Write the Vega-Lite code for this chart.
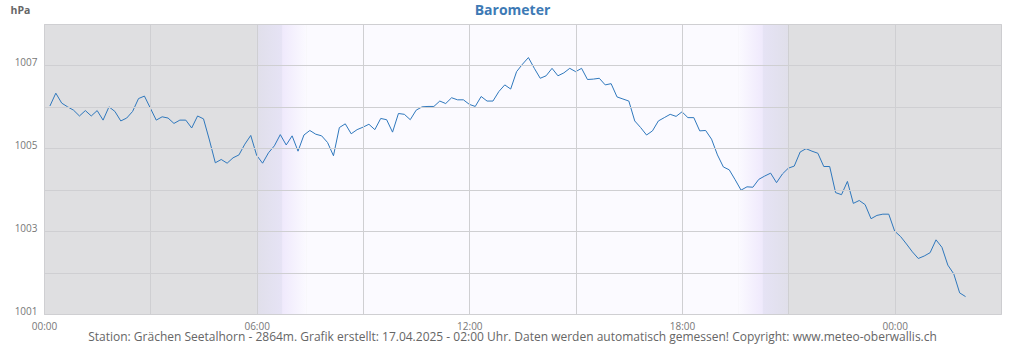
{
  "$schema": "https://vega.github.io/schema/vega-lite/v6.json",
  "width": 957,
  "height": 290,
  "autosize": "none",
  "padding": {"left": 44, "top": 24, "right": 23, "bottom": 36},
  "background": "#ffffff",
  "config": {"font": "Open Sans", "view": {"fill": "#dfdfe1", "stroke": "#cdcdd0"}},
  "title": {"text": "Barometer", "fontSize": 14, "fontWeight": "bold", "color": "#3d7ab5", "anchor": "middle", "dx": -10, "offset": 0, "dy": 13},
  "datasets": {
    "bands": [
      {"kind": "twilight_am", "start": "2025-04-16T06:00Z", "end": "2025-04-16T06:43Z"},
      {"kind": "dawn", "start": "2025-04-16T06:43Z", "end": "2025-04-16T07:25Z"},
      {"kind": "day", "start": "2025-04-16T07:25Z", "end": "2025-04-16T19:35Z"},
      {"kind": "dusk", "start": "2025-04-16T19:35Z", "end": "2025-04-16T20:17Z"},
      {"kind": "twilight_pm", "start": "2025-04-16T20:17Z", "end": "2025-04-16T21:00Z"}
    ],
    "pressure": [
      {"t": "2025-04-16T00:10Z", "p": 1006.02},
      {"t": "2025-04-16T00:20Z", "p": 1006.33},
      {"t": "2025-04-16T00:30Z", "p": 1006.09},
      {"t": "2025-04-16T00:40Z", "p": 1006.00},
      {"t": "2025-04-16T00:50Z", "p": 1005.92},
      {"t": "2025-04-16T01:00Z", "p": 1005.78},
      {"t": "2025-04-16T01:10Z", "p": 1005.91},
      {"t": "2025-04-16T01:20Z", "p": 1005.78},
      {"t": "2025-04-16T01:30Z", "p": 1005.91},
      {"t": "2025-04-16T01:40Z", "p": 1005.68},
      {"t": "2025-04-16T01:50Z", "p": 1006.00},
      {"t": "2025-04-16T02:00Z", "p": 1005.89},
      {"t": "2025-04-16T02:10Z", "p": 1005.66},
      {"t": "2025-04-16T02:20Z", "p": 1005.73},
      {"t": "2025-04-16T02:30Z", "p": 1005.89},
      {"t": "2025-04-16T02:40Z", "p": 1006.20},
      {"t": "2025-04-16T02:50Z", "p": 1006.26},
      {"t": "2025-04-16T03:00Z", "p": 1005.97},
      {"t": "2025-04-16T03:10Z", "p": 1005.68},
      {"t": "2025-04-16T03:20Z", "p": 1005.76},
      {"t": "2025-04-16T03:30Z", "p": 1005.73},
      {"t": "2025-04-16T03:40Z", "p": 1005.60},
      {"t": "2025-04-16T03:50Z", "p": 1005.68},
      {"t": "2025-04-16T04:00Z", "p": 1005.68},
      {"t": "2025-04-16T04:10Z", "p": 1005.49},
      {"t": "2025-04-16T04:20Z", "p": 1005.78},
      {"t": "2025-04-16T04:30Z", "p": 1005.71},
      {"t": "2025-04-16T04:40Z", "p": 1005.20},
      {"t": "2025-04-16T04:50Z", "p": 1004.65},
      {"t": "2025-04-16T05:00Z", "p": 1004.73},
      {"t": "2025-04-16T05:10Z", "p": 1004.64},
      {"t": "2025-04-16T05:20Z", "p": 1004.77},
      {"t": "2025-04-16T05:30Z", "p": 1004.84},
      {"t": "2025-04-16T05:40Z", "p": 1005.10},
      {"t": "2025-04-16T05:50Z", "p": 1005.31},
      {"t": "2025-04-16T06:00Z", "p": 1004.83},
      {"t": "2025-04-16T06:10Z", "p": 1004.64},
      {"t": "2025-04-16T06:20Z", "p": 1004.89},
      {"t": "2025-04-16T06:30Z", "p": 1005.06},
      {"t": "2025-04-16T06:40Z", "p": 1005.33},
      {"t": "2025-04-16T06:50Z", "p": 1005.08},
      {"t": "2025-04-16T07:00Z", "p": 1005.30},
      {"t": "2025-04-16T07:10Z", "p": 1004.93},
      {"t": "2025-04-16T07:20Z", "p": 1005.32},
      {"t": "2025-04-16T07:30Z", "p": 1005.43},
      {"t": "2025-04-16T07:40Z", "p": 1005.34},
      {"t": "2025-04-16T07:50Z", "p": 1005.30},
      {"t": "2025-04-16T08:00Z", "p": 1005.14},
      {"t": "2025-04-16T08:10Z", "p": 1004.82},
      {"t": "2025-04-16T08:20Z", "p": 1005.50},
      {"t": "2025-04-16T08:30Z", "p": 1005.59},
      {"t": "2025-04-16T08:40Z", "p": 1005.35},
      {"t": "2025-04-16T08:50Z", "p": 1005.45},
      {"t": "2025-04-16T09:00Z", "p": 1005.51},
      {"t": "2025-04-16T09:10Z", "p": 1005.58},
      {"t": "2025-04-16T09:20Z", "p": 1005.45},
      {"t": "2025-04-16T09:30Z", "p": 1005.72},
      {"t": "2025-04-16T09:40Z", "p": 1005.69},
      {"t": "2025-04-16T09:50Z", "p": 1005.39},
      {"t": "2025-04-16T10:00Z", "p": 1005.84},
      {"t": "2025-04-16T10:10Z", "p": 1005.82},
      {"t": "2025-04-16T10:20Z", "p": 1005.69},
      {"t": "2025-04-16T10:30Z", "p": 1005.92},
      {"t": "2025-04-16T10:40Z", "p": 1006.00},
      {"t": "2025-04-16T10:50Z", "p": 1006.01},
      {"t": "2025-04-16T11:00Z", "p": 1006.01},
      {"t": "2025-04-16T11:10Z", "p": 1006.14},
      {"t": "2025-04-16T11:20Z", "p": 1006.08},
      {"t": "2025-04-16T11:30Z", "p": 1006.22},
      {"t": "2025-04-16T11:40Z", "p": 1006.17},
      {"t": "2025-04-16T11:50Z", "p": 1006.17},
      {"t": "2025-04-16T12:00Z", "p": 1006.06},
      {"t": "2025-04-16T12:10Z", "p": 1006.01},
      {"t": "2025-04-16T12:20Z", "p": 1006.25},
      {"t": "2025-04-16T12:30Z", "p": 1006.14},
      {"t": "2025-04-16T12:40Z", "p": 1006.14},
      {"t": "2025-04-16T12:50Z", "p": 1006.37},
      {"t": "2025-04-16T13:00Z", "p": 1006.53},
      {"t": "2025-04-16T13:10Z", "p": 1006.43},
      {"t": "2025-04-16T13:20Z", "p": 1006.85},
      {"t": "2025-04-16T13:30Z", "p": 1007.03},
      {"t": "2025-04-16T13:40Z", "p": 1007.19},
      {"t": "2025-04-16T13:50Z", "p": 1006.93},
      {"t": "2025-04-16T14:00Z", "p": 1006.69},
      {"t": "2025-04-16T14:10Z", "p": 1006.75},
      {"t": "2025-04-16T14:20Z", "p": 1006.93},
      {"t": "2025-04-16T14:30Z", "p": 1006.75},
      {"t": "2025-04-16T14:40Z", "p": 1006.82},
      {"t": "2025-04-16T14:50Z", "p": 1006.93},
      {"t": "2025-04-16T15:00Z", "p": 1006.85},
      {"t": "2025-04-16T15:10Z", "p": 1006.93},
      {"t": "2025-04-16T15:20Z", "p": 1006.66},
      {"t": "2025-04-16T15:30Z", "p": 1006.67},
      {"t": "2025-04-16T15:40Z", "p": 1006.69},
      {"t": "2025-04-16T15:50Z", "p": 1006.53},
      {"t": "2025-04-16T16:00Z", "p": 1006.56},
      {"t": "2025-04-16T16:10Z", "p": 1006.24},
      {"t": "2025-04-16T16:20Z", "p": 1006.19},
      {"t": "2025-04-16T16:30Z", "p": 1006.14},
      {"t": "2025-04-16T16:40Z", "p": 1005.66},
      {"t": "2025-04-16T16:50Z", "p": 1005.50},
      {"t": "2025-04-16T17:00Z", "p": 1005.32},
      {"t": "2025-04-16T17:10Z", "p": 1005.42},
      {"t": "2025-04-16T17:20Z", "p": 1005.66},
      {"t": "2025-04-16T17:30Z", "p": 1005.74},
      {"t": "2025-04-16T17:40Z", "p": 1005.82},
      {"t": "2025-04-16T17:50Z", "p": 1005.77},
      {"t": "2025-04-16T18:00Z", "p": 1005.88},
      {"t": "2025-04-16T18:10Z", "p": 1005.74},
      {"t": "2025-04-16T18:20Z", "p": 1005.74},
      {"t": "2025-04-16T18:30Z", "p": 1005.42},
      {"t": "2025-04-16T18:40Z", "p": 1005.43},
      {"t": "2025-04-16T18:50Z", "p": 1005.22},
      {"t": "2025-04-16T19:00Z", "p": 1004.84},
      {"t": "2025-04-16T19:10Z", "p": 1004.55},
      {"t": "2025-04-16T19:20Z", "p": 1004.48},
      {"t": "2025-04-16T19:30Z", "p": 1004.24},
      {"t": "2025-04-16T19:40Z", "p": 1003.99},
      {"t": "2025-04-16T19:50Z", "p": 1004.07},
      {"t": "2025-04-16T20:00Z", "p": 1004.06},
      {"t": "2025-04-16T20:10Z", "p": 1004.25},
      {"t": "2025-04-16T20:20Z", "p": 1004.33},
      {"t": "2025-04-16T20:30Z", "p": 1004.40},
      {"t": "2025-04-16T20:40Z", "p": 1004.17},
      {"t": "2025-04-16T20:50Z", "p": 1004.38},
      {"t": "2025-04-16T21:00Z", "p": 1004.52},
      {"t": "2025-04-16T21:10Z", "p": 1004.57},
      {"t": "2025-04-16T21:20Z", "p": 1004.91},
      {"t": "2025-04-16T21:30Z", "p": 1004.99},
      {"t": "2025-04-16T21:40Z", "p": 1004.93},
      {"t": "2025-04-16T21:50Z", "p": 1004.88},
      {"t": "2025-04-16T22:00Z", "p": 1004.56},
      {"t": "2025-04-16T22:10Z", "p": 1004.56},
      {"t": "2025-04-16T22:20Z", "p": 1003.93},
      {"t": "2025-04-16T22:30Z", "p": 1003.88},
      {"t": "2025-04-16T22:40Z", "p": 1004.20},
      {"t": "2025-04-16T22:50Z", "p": 1003.67},
      {"t": "2025-04-16T23:00Z", "p": 1003.74},
      {"t": "2025-04-16T23:10Z", "p": 1003.64},
      {"t": "2025-04-16T23:20Z", "p": 1003.30},
      {"t": "2025-04-16T23:30Z", "p": 1003.38},
      {"t": "2025-04-16T23:40Z", "p": 1003.41},
      {"t": "2025-04-16T23:50Z", "p": 1003.41},
      {"t": "2025-04-17T00:00Z", "p": 1003.00},
      {"t": "2025-04-17T00:10Z", "p": 1002.87},
      {"t": "2025-04-17T00:20Z", "p": 1002.69},
      {"t": "2025-04-17T00:30Z", "p": 1002.50},
      {"t": "2025-04-17T00:40Z", "p": 1002.34},
      {"t": "2025-04-17T00:50Z", "p": 1002.40},
      {"t": "2025-04-17T01:00Z", "p": 1002.48},
      {"t": "2025-04-17T01:10Z", "p": 1002.79},
      {"t": "2025-04-17T01:20Z", "p": 1002.61},
      {"t": "2025-04-17T01:30Z", "p": 1002.18},
      {"t": "2025-04-17T01:40Z", "p": 1001.97},
      {"t": "2025-04-17T01:50Z", "p": 1001.51},
      {"t": "2025-04-17T02:00Z", "p": 1001.42}
    ]
  },
  "layer": [
    {
      "data": {"name": "bands"},
      "transform": [{"filter": "datum.kind == 'twilight_am'"}],
      "mark": {"type": "rect", "color": {"gradient": "linear", "x1": 0, "y1": 0, "x2": 1, "y2": 0, "stops": [{"offset": 0, "color": "#e0dfea"}, {"offset": 1, "color": "#e6e3f5"}]}},
      "encoding": {
        "x": {
          "field": "start", "type": "temporal",
          "scale": {"type": "utc", "domain": [{"year": 2025, "month": 4, "date": 16, "hours": 0, "utc": true}, {"year": 2025, "month": 4, "date": 17, "hours": 3, "utc": true}]},
          "axis": {
            "zindex": 1,
            "values": [
              {"year": 2025, "month": 4, "date": 16, "hours": 0, "utc": true},
              {"year": 2025, "month": 4, "date": 16, "hours": 3, "utc": true},
              {"year": 2025, "month": 4, "date": 16, "hours": 6, "utc": true},
              {"year": 2025, "month": 4, "date": 16, "hours": 9, "utc": true},
              {"year": 2025, "month": 4, "date": 16, "hours": 12, "utc": true},
              {"year": 2025, "month": 4, "date": 16, "hours": 15, "utc": true},
              {"year": 2025, "month": 4, "date": 16, "hours": 18, "utc": true},
              {"year": 2025, "month": 4, "date": 16, "hours": 21, "utc": true},
              {"year": 2025, "month": 4, "date": 17, "hours": 0, "utc": true}
            ],
            "labelExpr": "utchours(datum.value) % 6 == 0 ? utcFormat(datum.value, '%H:%M') : ''",
            "labelFlush": false,
            "labelOverlap": false,
            "labelFontSize": 10,
            "labelColor": "#777777",
            "labelPadding": 7,
            "ticks": false,
            "domain": false,
            "grid": true,
            "gridColor": "#cfcfd2",
            "gridWidth": 1,
            "title": "Station: Grächen Seetalhorn - 2864m. Grafik erstellt: 17.04.2025 - 02:00 Uhr. Daten werden automatisch gemessen! Copyright: www.meteo-oberwallis.ch",
            "titleFontSize": 12,
            "titleFontWeight": "normal",
            "titleColor": "#666666",
            "titleX": 468,
            "titleY": 26,
            "titleAlign": "center",
            "titleBaseline": "alphabetic"
          }
        },
        "x2": {"field": "end"}
      }
    },
    {
      "data": {"name": "bands"},
      "transform": [{"filter": "datum.kind == 'dawn'"}],
      "mark": {"type": "rect", "color": {"gradient": "linear", "x1": 0, "y1": 0, "x2": 1, "y2": 0, "stops": [{"offset": 0, "color": "#efe9fc"}, {"offset": 1, "color": "#fbfaff"}]}},
      "encoding": {"x": {"field": "start", "type": "temporal"}, "x2": {"field": "end"}}
    },
    {
      "data": {"name": "bands"},
      "transform": [{"filter": "datum.kind == 'day'"}],
      "mark": {"type": "rect", "color": "#fbfaff"},
      "encoding": {"x": {"field": "start", "type": "temporal"}, "x2": {"field": "end"}}
    },
    {
      "data": {"name": "bands"},
      "transform": [{"filter": "datum.kind == 'dusk'"}],
      "mark": {"type": "rect", "color": {"gradient": "linear", "x1": 0, "y1": 0, "x2": 1, "y2": 0, "stops": [{"offset": 0, "color": "#fbfaff"}, {"offset": 1, "color": "#efe9fc"}]}},
      "encoding": {"x": {"field": "start", "type": "temporal"}, "x2": {"field": "end"}}
    },
    {
      "data": {"name": "bands"},
      "transform": [{"filter": "datum.kind == 'twilight_pm'"}],
      "mark": {"type": "rect", "color": {"gradient": "linear", "x1": 0, "y1": 0, "x2": 1, "y2": 0, "stops": [{"offset": 0, "color": "#e6e3f5"}, {"offset": 1, "color": "#e0dfea"}]}},
      "encoding": {"x": {"field": "start", "type": "temporal"}, "x2": {"field": "end"}}
    },
    {
      "data": {"name": "pressure"},
      "mark": {"type": "line", "color": "#2f78bd", "strokeWidth": 1, "interpolate": "linear"},
      "encoding": {
        "x": {"field": "t", "type": "temporal"},
        "y": {
          "field": "p", "type": "quantitative",
          "scale": {"domain": [1001, 1008], "zero": false, "nice": false},
          "axis": {
            "zindex": 1,
            "values": [1001, 1002, 1003, 1004, 1005, 1006, 1007, 1008],
            "format": "d",
            "labelExpr": "datum.value % 2 == 1 ? datum.label : ''",
            "labelFontSize": 10,
            "labelColor": "#777777",
            "labelPadding": 7,
            "labelOffset": -3,
            "ticks": false,
            "domain": false,
            "grid": true,
            "gridColor": "#cfcfd2",
            "gridWidth": 1,
            "title": "hPa",
            "titleAngle": 0,
            "titleX": -34,
            "titleY": -11,
            "titleAlign": "left",
            "titleBaseline": "alphabetic",
            "titleFontSize": 10.5,
            "titleFontWeight": "bold",
            "titleColor": "#666666"
          }
        }
      }
    }
  ]
}
